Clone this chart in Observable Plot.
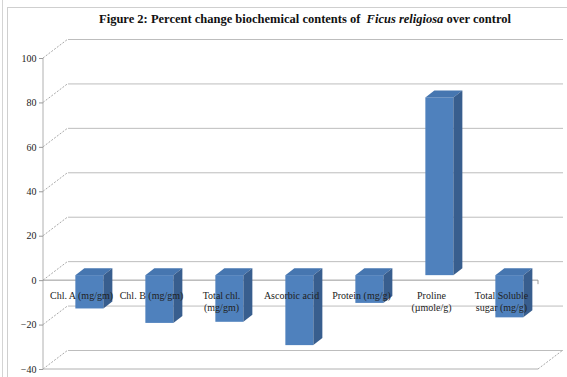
<!DOCTYPE html>
<html>
<head>
<meta charset="utf-8">
<script src="https://cdn.jsdelivr.net/npm/d3@7"></script>
<script src="https://cdn.jsdelivr.net/npm/@observablehq/plot@0.6"></script>
<style>
  html, body { margin: 0; padding: 0; background: #fff; }
  #wrap { position: relative; width: 567px; height: 377px; overflow: hidden; background: #fff; }
  #edge { position: absolute; left: 2px; top: 0; height: 377px; border-left: 1px solid #d4d4d4; }
  #frame { position: absolute; left: 7px; top: 7px; width: 640px; height: 420px; border-left: 1px solid #cfcfcf; border-top: 1px solid #cfcfcf; }
  #title { position: absolute; left: 43px; width: 524px; top: 12px; text-align: center;
           font-family: "Liberation Serif", "Times New Roman", serif; font-weight: bold; font-size: 12.5px; color: #111; white-space: nowrap; }
  #chart { position: absolute; left: 0; top: 0; }
  #chart svg text { font-family: "Liberation Serif", "Times New Roman", serif; }
</style>
</head>
<body>
<div id="wrap">
  <div id="edge"></div>
  <div id="frame"></div>
  <div id="chart"></div>
  <div id="title">Figure 2: Percent change biochemical contents of&nbsp; <i>Ficus religiosa</i> over control</div>
</div>
<script>
const categories = ["Chl. A (mg/gm)", "Chl. B (mg/gm)", "Total chl.\n(mg/gm)", "Ascorbic acid", "Protein (mg/g)", "Proline\n(µmole/g)", "Total Soluble\nsugar (mg/g)"];
const values = [-15, -21.5, -21, -31.5, -12.5, 80, -19];
const yTicks = [-40, -20, 0, 20, 40, 60, 80, 100];

const idx = d3.range(categories.length);
const depthX = 25, depthY = -19;      // wall depth offset
const barDX = 8, barDY = -5;          // bar position within depth
const barDepthX = 9, barDepthY = -7;  // bar thickness
const frontFrac = 0.396;

function decor(index, scales, values_, dims) {
  const g = d3.create("svg:g");
  const x = scales.x, y = scales.y;
  const left = dims.marginLeft, right = dims.width - dims.marginRight;
  for (const t of yTicks) {
    g.append("line").attr("x1", left).attr("y1", y(t)).attr("x2", left + depthX).attr("y2", y(t) + depthY)
      .attr("stroke", "#a8a8a8").attr("stroke-dasharray", "2,1.5");
  }
  g.append("line").attr("x1", right).attr("y1", y(-40)).attr("x2", right + depthX).attr("y2", y(-40) + depthY)
    .attr("stroke", "#a8a8a8").attr("stroke-dasharray", "2,1.5");
  g.append("line").attr("x1", left).attr("x2", left).attr("y1", y(100)).attr("y2", y(-40)).attr("stroke", "#b0b0b0");
  g.append("line").attr("x1", left).attr("x2", right).attr("y1", y(-40)).attr("y2", y(-40)).attr("stroke", "#b0b0b0");
  g.append("line").attr("x1", left).attr("x2", right).attr("y1", y(0)).attr("y2", y(0)).attr("stroke", "#999");
  g.append("line").attr("x1", right).attr("x2", right).attr("y1", y(0)).attr("y2", y(0) + 4).attr("stroke", "#999");
  return g.node();
}

function bars3d(index, scales, values_, dims) {
  const g = d3.create("svg:g");
  const x = scales.x, y = scales.y;
  const bw = (dims.width - dims.marginLeft - dims.marginRight) / categories.length;
  const inset = bw * (1 - frontFrac) / 2;
  for (const i of idx) {
    const x0 = x(categories[i]) + inset + barDX;
    const x1 = x(categories[i]) + bw - inset + barDX;
    const yT = Math.min(y(0), y(values[i])) + barDY;
    const yB = Math.max(y(0), y(values[i])) + barDY;
    g.append("rect").attr("x", x0).attr("y", yT).attr("width", x1 - x0).attr("height", yB - yT)
      .attr("fill", "#4F81BD");
    g.append("path").attr("d", `M${x0},${yT}L${x1},${yT}L${x1 + barDepthX},${yT + barDepthY}L${x0 + barDepthX},${yT + barDepthY}Z`)
      .attr("fill", "#4676B0");
    g.append("path").attr("d", `M${x1},${yT}L${x1 + barDepthX},${yT + barDepthY}L${x1 + barDepthX},${yB + barDepthY}L${x1},${yB}Z`)
      .attr("fill", "#385E8E");
  }
  return g.node();
}

const chart = Plot.plot({
  width: 567,
  height: 377,
  marginLeft: 43,
  marginRight: 29,
  marginTop: 58,
  marginBottom: 8,
  style: { fontFamily: "'Liberation Serif', 'Times New Roman', serif", background: "transparent", overflow: "visible" },
  x: { domain: categories, type: "band", padding: 0, axis: null },
  y: { domain: [-40, 100], axis: null },
  marks: [
    Plot.ruleY(yTicks, { stroke: "#bdbdbd", dx: depthX, dy: depthY }),
    decor,
    Plot.axisY(yTicks, { tickSize: 4, tickPadding: 3, stroke: "#999", fill: "#222", fontSize: 10, label: null }),
    bars3d,
    Plot.text(idx, {
      x: i => categories[i], y: () => 0, text: i => categories[i],
      dy: 9, lineAnchor: "top", lineHeight: 1.25, fontSize: 10, fill: "#222"
    })
  ]
});
document.getElementById("chart").appendChild(chart);
</script>
</body>
</html>
